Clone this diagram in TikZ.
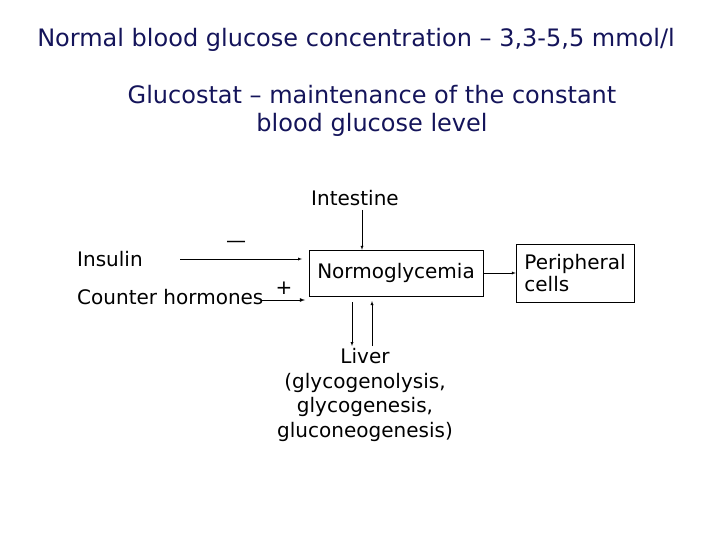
\documentclass[tikz,border=0pt]{standalone}
\usepackage{fontspec}
\setmainfont{DejaVu Sans}
\definecolor{ttl}{RGB}{20,20,90}
\begin{document}
\begin{tikzpicture}[x=1pt,y=-1pt,
  txt/.style={font=\fontsize{20}{22}\selectfont, inner sep=1pt},
  ttltxt/.style={font=\fontsize{24}{28}\selectfont, text=ttl, align=center},
  box/.style={draw, thin, inner sep=0pt},
  arr/.style={-latex, thin}]
\useasboundingbox (0,0) rectangle (720,540);
\node[ttltxt] (t1) at (356,40) {Normal blood glucose concentration – 3,3-5,5 mmol/l};
\node[ttltxt] (t2) at (372,111) {Glucostat – maintenance of the constant\\blood glucose level};
\node[txt] (int) at (355,198) {Intestine};
\node[box, minimum width=174pt, minimum height=46pt, txt] (nor) at (396,273) {Normoglycemia};
\node[box, minimum width=118pt, minimum height=58pt, txt, align=left] (per) at (575,273) {Peripheral\\cells};
\node[txt, anchor=west] (ins) at (76,259) {Insulin};
\node[txt, anchor=west] (ch) at (76,297) {Counter hormones};
\node[txt] (minus) at (236,244) {—};
\node[txt] (plus) at (284,288) {+};
\node[txt, align=center, font=\fontsize{20}{24.5}\selectfont] (liv) at (365,395) {Liver\\(glycogenolysis,\\glycogenesis,\\gluconeogenesis)};
\coordinate (a1) at (180,259); \coordinate (a2) at (302,259);
\coordinate (b1) at (262,300); \coordinate (b2) at (305,300);
\coordinate (i1) at (362,210);
\draw[arr] (a1) -- (a2);
\draw[arr, thick] (b1) -- (b2);
\draw[arr] (i1) -- (nor.north -| i1);
\draw[arr] (nor.east) -- (per.west);
\draw[arr] (352,302) -- (352,346);
\draw[arr] (372,346) -- (372,301);
\end{tikzpicture}
\end{document}
